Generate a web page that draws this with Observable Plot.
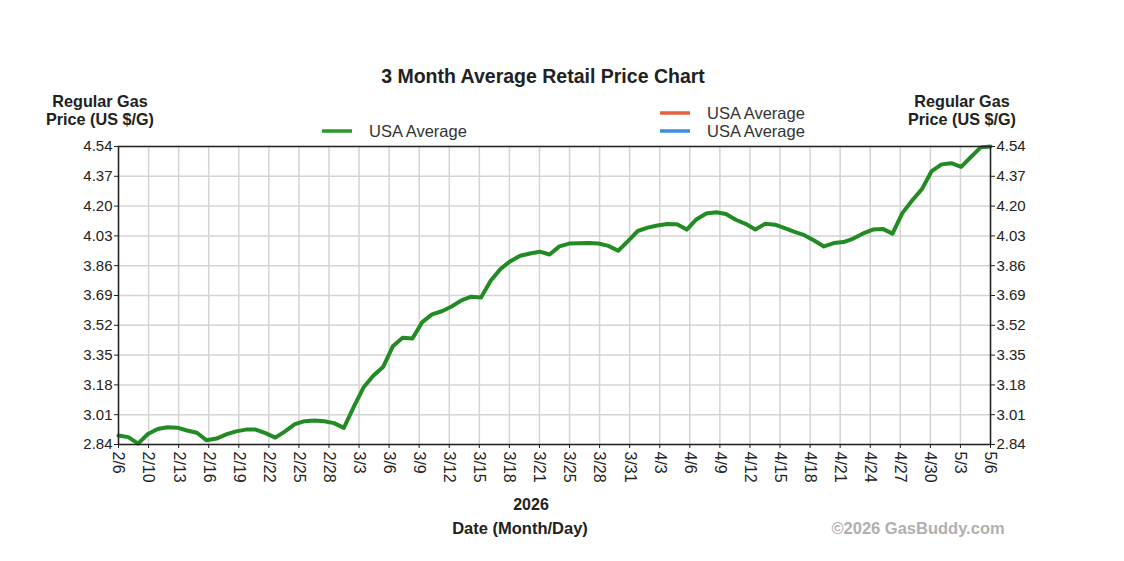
<!DOCTYPE html>
<html>
<head>
<meta charset="utf-8">
<script src="https://cdn.jsdelivr.net/npm/d3@7"></script>
<script src="https://cdn.jsdelivr.net/npm/@observablehq/plot@0.6"></script>
<style>
  html, body { margin: 0; padding: 0; background: #fff; }
  #chart svg { display: block; }
</style>
</head>
<body>
<div id="chart"></div>
<script>
// Daily USA average regular gas price, 2/6 .. 5/6 (90 days)
const prices = [
  2.891, 2.882, 2.845, 2.900, 2.928, 2.938, 2.936, 2.920, 2.907, 2.864,
  2.874, 2.898, 2.915, 2.925, 2.925, 2.905, 2.879, 2.915, 2.956, 2.973,
  2.977, 2.973, 2.962, 2.935, 3.053, 3.165, 3.232, 3.282, 3.400, 3.449,
  3.445, 3.538, 3.582, 3.600, 3.627, 3.662, 3.683, 3.678, 3.776, 3.842,
  3.886, 3.917, 3.930, 3.940, 3.924, 3.970, 3.986, 3.988, 3.989, 3.987,
  3.973, 3.945, 4.000, 4.058, 4.077, 4.089, 4.098, 4.097, 4.066, 4.125,
  4.158, 4.165, 4.155, 4.122, 4.099, 4.066, 4.099, 4.094, 4.074, 4.053,
  4.034, 4.004, 3.970, 3.989, 3.995, 4.015, 4.044, 4.066, 4.070, 4.043,
  4.160, 4.232, 4.297, 4.400, 4.438, 4.445, 4.424, 4.480, 4.535, 4.540
];
const xTickLabels = ["2/6","2/10","2/13","2/16","2/19","2/22","2/25","2/28","3/3","3/6",
  "3/9","3/12","3/15","3/18","3/21","3/25","3/28","3/31","4/3","4/6",
  "4/9","4/12","4/15","4/18","4/21","4/24","4/27","4/30","5/3","5/6"];
const yTicks = [2.84, 3.01, 3.18, 3.35, 3.52, 3.69, 3.86, 4.03, 4.20, 4.37, 4.54];
const seriesName = "USA Average";

const data = prices.map((p, i) => ({day: i, price: p}));
const lastDay = prices.length - 1;
const xTickPos = xTickLabels.map((_, i) => i * lastDay / (xTickLabels.length - 1));
const labelMap = new Map(xTickPos.map((p, i) => [p, xTickLabels[i]]));

const W = 1124, H = 561;
const FONT = "'Liberation Sans', Arial, sans-serif";
const chart = Plot.plot({
  width: W, height: H,
  marginLeft: 118, marginRight: 134, marginTop: 146, marginBottom: 117,
  style: {fontFamily: FONT, fontSize: "15px", color: "#222", background: "#fff"},
  x: {domain: [0, lastDay]},
  y: {domain: [2.84, 4.54]},
  marks: [
    Plot.gridX(xTickPos, {stroke: "#d4d4d4", strokeOpacity: 1, strokeWidth: 1.5}),
    Plot.gridY(yTicks, {stroke: "#d4d4d4", strokeOpacity: 1, strokeWidth: 1.5}),
    Plot.line(data, {x: "day", y: "price", stroke: "#238b23", strokeWidth: 4, strokeLinejoin: "round"}),
    Plot.frame({stroke: "#222", strokeWidth: 1.5}),
    Plot.axisY(yTicks, {anchor: "left", tickFormat: ".2f", tickSize: 4, tickPadding: 2, label: null, fontSize: 15}),
    Plot.axisY(yTicks, {anchor: "right", tickFormat: ".2f", tickSize: 4, tickPadding: 2, label: null, fontSize: 15}),
    Plot.axisX(xTickPos, {anchor: "bottom", tickFormat: d => labelMap.get(d), tickRotate: 90, tickSize: 4, tickPadding: 3, label: null, fontSize: 16})
  ]
});
document.getElementById("chart").appendChild(chart);

// Titles, legend and caption
const svg = d3.select(chart);
const g = svg.append("g").attr("font-family", FONT).attr("text-anchor", "start");
g.append("text").attr("x", 543).attr("y", 83).attr("text-anchor", "middle")
  .attr("font-size", 19.5).attr("font-weight", "bold").attr("fill", "#222")
  .text("3 Month Average Retail Price Chart");
function axisTitle(cx) {
  const t = g.append("text").attr("text-anchor", "middle").attr("font-size", 16.2)
    .attr("font-weight", "bold").attr("fill", "#222");
  t.append("tspan").attr("x", cx).attr("y", 107).text("Regular Gas");
  t.append("tspan").attr("x", cx).attr("y", 125).text("Price (US $/G)");
}
axisTitle(100);
axisTitle(962);
function legendItem(x, y, color) {
  g.append("line").attr("x1", x).attr("x2", x + 30).attr("y1", y).attr("y2", y)
    .attr("stroke", color).attr("stroke-width", 3.5);
  g.append("text").attr("x", x + 47).attr("y", y + 6).attr("text-anchor", "start")
    .attr("font-size", 16.5).attr("fill", "#333").text(seriesName);
}
legendItem(322, 131, "#2a9a2a");
legendItem(660, 113, "#e8623f");
legendItem(660, 131, "#3d8ee0");
g.append("text").attr("x", 531).attr("y", 510).attr("text-anchor", "middle")
  .attr("font-size", 16).attr("font-weight", "bold").attr("fill", "#222").text("2026");
g.append("text").attr("x", 520).attr("y", 534).attr("text-anchor", "middle")
  .attr("font-size", 16.5).attr("font-weight", "bold").attr("fill", "#222").text("Date (Month/Day)");
g.append("text").attr("x", 918).attr("y", 534).attr("text-anchor", "middle")
  .attr("font-size", 16.5).attr("font-weight", "bold").attr("fill", "#b0b0b0").text("©2026 GasBuddy.com");
</script>
</body>
</html>
